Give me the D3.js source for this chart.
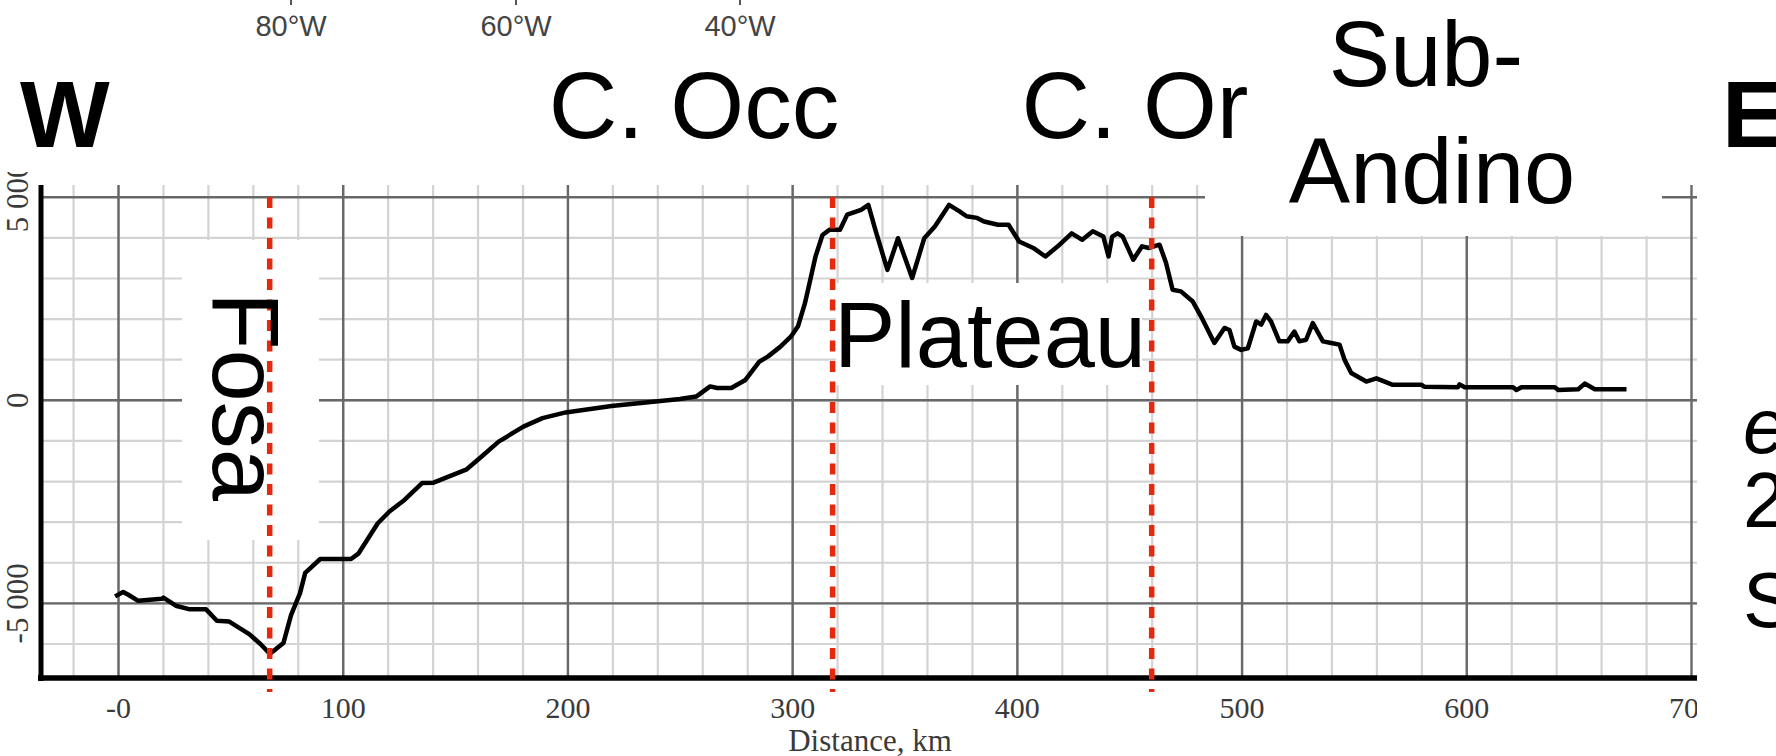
<!DOCTYPE html>
<html>
<head>
<meta charset="utf-8">
<script src="https://cdn.jsdelivr.net/npm/d3@7/dist/d3.min.js"></script>
<style>
  body { margin: 0; background: #fff; }
  svg { display: block; }
</style>
</head>
<body>
<div id="chart"></div>
<script>
// topographic profile, W -> E
const distKm = [
  -1.3, 2.3, 4.6, 9, 19.4, 20.2, 25.7, 32, 39.2, 44, 49.5, 58.4, 63.5, 67.5, 70, 73.6, 77,
  81, 83.3, 90, 103.7, 107.1, 115.6, 120.8, 127.6, 135.3, 140.4, 154.9, 161.7, 169.4, 180.4,
  188.9, 199.2, 219.6, 241.4, 250, 257.3, 263.5, 266.6, 272.9, 279.2, 285.4, 289.3, 294.8,
  299.5, 302.6, 305.7, 308.1, 310.4, 313.5, 316.7, 321.3, 324.5, 330.7, 333.9, 337, 342.4,
  347.1, 353.4, 358.8, 363.5, 369.8, 374.5, 377.6, 382.3, 385.4, 391.6, 396.3, 401, 407.3,
  412.7, 418.2, 424.4, 429.1, 433.8, 438.5, 440.8, 442.4, 444.8, 447.1, 451.8, 455.7, 458.8,
  463.5, 466.4, 469.3, 473, 478.3, 482, 487.9, 492.4, 494.6, 496.8, 499.8, 502.8, 506.5,
  508.7, 510.9, 513.1, 516.8, 520.5, 523.5, 525.7, 528.7, 531.7, 536.2, 539.9, 543.6, 545.8,
  548.8, 555.5, 560, 567.3, 580, 581.5, 596.3, 597, 599.3, 620.8, 622.3, 624.5, 639.4, 640.9,
  649.8, 652.7, 657.2, 671.3
];
const elevM = [
  -4840, -4730, -4800, -4950, -4900, -4870, -5070, -5160, -5160, -5440, -5460, -5770, -6020, -6250, -6150, -5990, -5300,
  -4760, -4260, -3920, -3920, -3780, -3040, -2750, -2460, -2050, -2040, -1720, -1400, -1030, -660,
  -450, -310, -150, -30, 20, 80, 330, 290, 290, 490, 940, 1070, 1310,
  1560, 1810, 2380, 2960, 3530, 4060, 4190, 4190, 4560, 4680, 4800, 4190, 3200,
  3980, 3000, 3980, 4270, 4800, 4640, 4520, 4480, 4390, 4310, 4310, 3900, 3740,
  3530, 3780, 4100, 3940, 4150, 4020, 3530, 4020, 4100, 4020, 3450, 3780, 3740,
  3820, 3370, 2710, 2670, 2420, 2050, 1400, 1770, 1720, 1310, 1230, 1270, 1930,
  1850, 2090, 1930, 1440, 1440, 1680, 1440, 1480, 1890, 1440, 1400, 1360, 990,
  660, 450, 530, 370, 370, 320, 310, 380, 310, 310, 240, 310, 310, 240,
  260, 400, 260, 260
];
const boundariesKm = [67.5, 318, 460];
const xTickValues = [0, 100, 200, 300, 400, 500, 600, 700];
const xTickLabels = ['-0', '100', '200', '300', '400', '500', '600', '700'];
const yTickValues = [-5000, 0, 5000];
const yTickLabels = ['-5 000', '0', '5 000'];
const lonLabels = ['80°W', '60°W', '40°W'];
const regionLabels = ['C. Occ', 'C. Or', 'Sub-', 'Andino', 'Plateau', 'Fosa'];
const sideLabels = ['W', 'E'];
const noteLabels = ['e', '2', 'S'];

const width = 1776;
const height = 756;
const plot = { left: 41, right: 1691, top: 185, bottom: 678 };

const x = d3.scaleLinear().domain([-34.27, 700]).range([plot.left, plot.right]);
const y = d3.scaleLinear().domain([-6850, 5290]).range([plot.bottom, plot.top]);

const svg = d3.select('#chart').append('svg')
  .attr('width', width)
  .attr('height', height)
  .style('background', '#fff');

svg.append('defs').append('clipPath').attr('id', 'label-clip')
  .append('rect').attr('x', 0).attr('y', 172).attr('width', 1697).attr('height', height);

// grid: minor first, then major
const gridH = plot.bottom - plot.top;
const gridW = 1697 - plot.left;
const minorX = svg.append('g')
  .attr('transform', `translate(0, ${plot.bottom})`)
  .call(d3.axisBottom(x).tickValues(d3.range(-20, 700, 20)).tickSize(-gridH).tickFormat(''));
const minorY = svg.append('g')
  .attr('transform', `translate(${plot.left}, 0)`)
  .call(d3.axisLeft(y).tickValues(d3.range(-6000, 5000, 1000)).tickSize(-gridW).tickFormat(''));
[minorX, minorY].forEach((g) => {
  g.select('.domain').remove();
  g.selectAll('line').attr('stroke', '#d3d3d3').attr('stroke-width', 2.2);
});

const majorX = svg.append('g')
  .attr('transform', `translate(0, ${plot.bottom})`)
  .call(d3.axisBottom(x).tickValues(xTickValues).tickSize(-gridH).tickFormat(''));
const majorY = svg.append('g')
  .attr('transform', `translate(${plot.left}, 0)`)
  .call(d3.axisLeft(y).tickValues(yTickValues).tickSize(-gridW).tickFormat(''));
[majorX, majorY].forEach((g) => {
  g.select('.domain').remove();
  g.selectAll('line').attr('stroke', '#686868').attr('stroke-width', 2.4);
});

// white label boxes that hide the grid
const boxes = [
  { x0: 182, x1: 319, y0: 240, y1: 540 },
  { x0: 836, x1: 1142, y0: 283, y1: 385 },
  { x0: 1205, x1: 1662, y0: 150, y1: 236 },
];
svg.append('g').selectAll('rect').data(boxes).enter().append('rect')
  .attr('x', (d) => d.x0).attr('y', (d) => d.y0)
  .attr('width', (d) => d.x1 - d.x0).attr('height', (d) => d.y1 - d.y0)
  .attr('fill', '#fff');

// axes frame
svg.append('line')
  .attr('x1', plot.left).attr('x2', plot.left).attr('y1', plot.top).attr('y2', plot.bottom + 3)
  .attr('stroke', '#000').attr('stroke-width', 5);
svg.append('line')
  .attr('x1', plot.left - 3).attr('x2', 1697).attr('y1', plot.bottom).attr('y2', plot.bottom)
  .attr('stroke', '#000').attr('stroke-width', 5.5);

// profile
const profile = distKm.map((d, i) => [d, elevM[i]]);
svg.append('path')
  .datum(profile)
  .attr('fill', 'none')
  .attr('stroke', '#000')
  .attr('stroke-width', 4.5)
  .attr('stroke-linejoin', 'round')
  .attr('d', d3.line().x((d) => x(d[0])).y((d) => y(d[1])));

// boundaries
svg.append('g').selectAll('line').data(boundariesKm).enter().append('line')
  .attr('x1', (d) => x(d)).attr('x2', (d) => x(d))
  .attr('y1', 197).attr('y2', 692)
  .attr('stroke', '#e4290f')
  .attr('stroke-width', 5.5)
  .attr('stroke-dasharray', '11,9.5');

// tick labels (clipped like the source crop)
const serif = '"Liberation Serif", "Times New Roman", serif';
const labelLayer = svg.append('g').attr('clip-path', 'url(#label-clip)');

const xLabels = labelLayer.append('g')
  .attr('transform', `translate(0, ${plot.bottom})`)
  .call(d3.axisBottom(x).tickValues(xTickValues).tickSize(0).tickPadding(40)
    .tickFormat((d, i) => xTickLabels[i]));
xLabels.select('.domain').remove();
xLabels.selectAll('text')
  .attr('font-family', serif)
  .attr('font-size', 30)
  .attr('fill', '#3a3a3a')
  .attr('dy', 0);

const yLabels = labelLayer.append('g')
  .attr('transform', `translate(${plot.left}, 0)`)
  .call(d3.axisLeft(y).tickValues(yTickValues).tickSize(0)
    .tickFormat((d, i) => yTickLabels[i]));
yLabels.select('.domain').remove();
yLabels.selectAll('text')
  .attr('font-family', serif)
  .attr('font-size', 31)
  .attr('fill', '#3a3a3a')
  .attr('text-anchor', 'middle')
  .attr('transform', 'rotate(-90)')
  .attr('x', 0)
  .attr('y', -13)
  .attr('dy', 0);

svg.append('text')
  .attr('x', (plot.left + plot.right) / 2 + 4)
  .attr('y', 751)
  .attr('text-anchor', 'middle')
  .attr('font-family', serif)
  .attr('font-size', 31)
  .attr('fill', '#3a3a3a')
  .text('Distance, km');

// longitude labels from the map above
const lonX = [291, 516, 740];
svg.append('g').selectAll('line').data(lonX).enter().append('line')
  .attr('x1', (d) => d).attr('x2', (d) => d).attr('y1', 0).attr('y2', 5)
  .attr('stroke', '#555').attr('stroke-width', 2);
svg.append('g').selectAll('text').data(lonLabels).enter().append('text')
  .attr('x', (d, i) => lonX[i])
  .attr('y', 36)
  .attr('text-anchor', 'middle')
  .attr('font-family', '"Liberation Sans", Arial, sans-serif')
  .attr('font-size', 29)
  .attr('fill', '#444')
  .text((d) => d);

// annotations
const sans = '"Liberation Sans", Arial, Helvetica, sans-serif';
svg.append('text').attr('x', 20).attr('y', 147)
  .attr('font-family', sans).attr('font-weight', 'bold').attr('font-size', 95)
  .text(sideLabels[0]);
svg.append('text').attr('x', 1722).attr('y', 147)
  .attr('font-family', sans).attr('font-weight', 'bold').attr('font-size', 95)
  .text(sideLabels[1]);

const regionPos = [
  { x: 694, y: 138, anchor: 'middle', size: 95 },
  { x: 1135, y: 138, anchor: 'middle', size: 95 },
  { x: 1426, y: 86, anchor: 'middle', size: 92 },
  { x: 1432, y: 203, anchor: 'middle', size: 92 },
  { x: 834, y: 367, anchor: 'start', size: 92 },
  { x: 213, y: 292, anchor: 'start', size: 94, rotate: 90 },
];
svg.append('g').selectAll('text').data(regionLabels).enter().append('text')
  .attr('x', (d, i) => regionPos[i].x)
  .attr('y', (d, i) => regionPos[i].y)
  .attr('text-anchor', (d, i) => regionPos[i].anchor)
  .attr('transform', (d, i) => (regionPos[i].rotate
    ? `rotate(${regionPos[i].rotate}, ${regionPos[i].x}, ${regionPos[i].y})` : null))
  .attr('font-family', sans)
  .attr('font-size', (d, i) => regionPos[i].size)
  .attr('fill', '#000')
  .text((d) => d);

const noteY = [453, 527, 627];
svg.append('g').selectAll('text').data(noteLabels).enter().append('text')
  .attr('x', 1743)
  .attr('y', (d, i) => noteY[i])
  .attr('font-family', sans)
  .attr('font-size', 78)
  .attr('font-style', (d, i) => (i === 0 ? 'italic' : 'normal'))
  .attr('fill', '#000')
  .text((d) => d);
</script>
</body>
</html>
